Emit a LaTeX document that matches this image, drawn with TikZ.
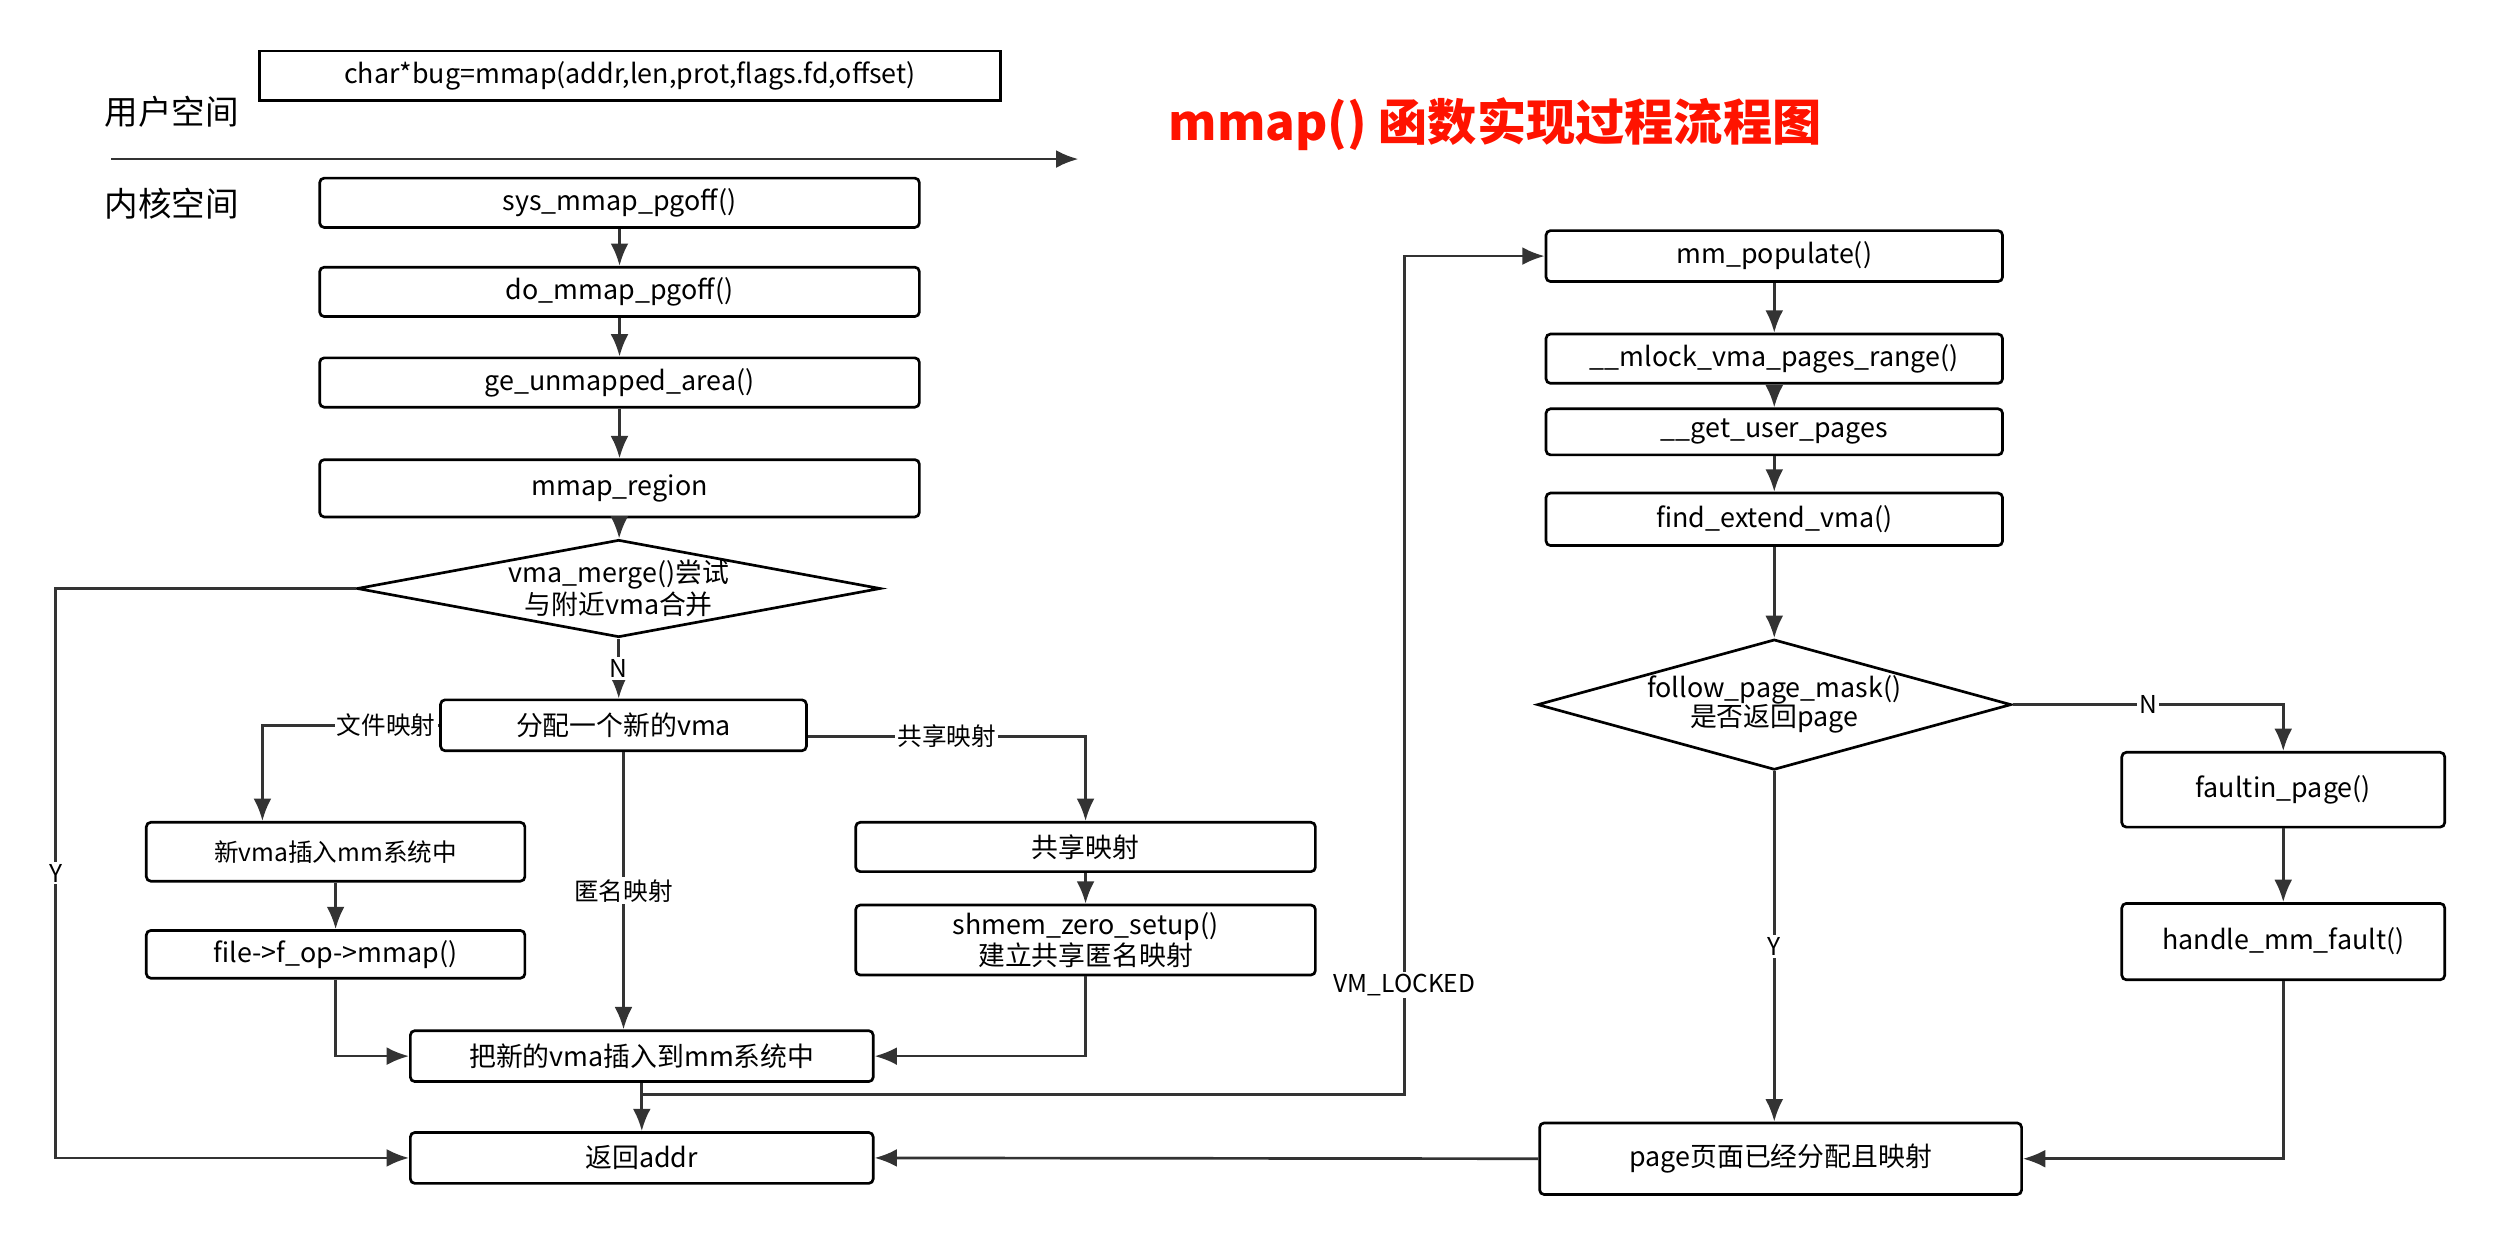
\documentclass[tikz,border=0pt]{standalone}
\usepackage{fontspec}
\setmainfont{Noto Sans CJK SC}
\usetikzlibrary{arrows.meta,shapes.geometric}
\tikzset{>={Latex[length=10pt,width=8pt]}}

\begin{document}
\begin{tikzpicture}[x=0.025cm,y=-0.025cm,
  box/.style={draw,rounded corners=2pt,line width=1.2pt,inner sep=0pt,align=center,font=\fontsize{12}{14}\selectfont},
  size/.style 2 args={minimum width={#1*0.025cm},minimum height={#2*0.025cm}},
  decide/.style={draw,diamond,line width=1.2pt,inner sep=0pt,align=center,font=\fontsize{12}{13}\selectfont},
  link/.style={->,line width=1.2pt,draw=black!80},
  tag/.style={fill=white,inner sep=1pt,font=\fontsize{11}{13}\selectfont}]
  \useasboundingbox (0,0) rectangle (1568,782);

  % User / kernel split
  \node[box,rounded corners=0pt,size={466}{31}] (call) at (396,47.5) {char*bug=mmap(addr,len,prot,flags.fd,offset)};
  \node[font=\fontsize{15}{17}\selectfont] (user) at (108,70) {用户空间};
  \node[font=\fontsize{15}{17}\selectfont] (kern) at (108,128) {内核空间};
  \coordinate (splitL) at (70,100);
  \coordinate (splitR) at (678,100);
  \draw[link] (splitL) -- (splitR);
  \node[text=red!85!orange,font=\fontsize{22}{26}\selectfont\bfseries] (title) at (940,78) {mmap() 函数实现过程流程图};

  % Left column
  \node[box,size={377}{31}] (sys) at (389.5,127.5) {sys\_mmap\_pgoff()};
  \node[box,size={377}{31}] (dopg) at (389.5,183.5) {do\_mmap\_pgoff()};
  \node[box,size={377}{31}] (gua) at (389.5,240.5) {ge\_unmapped\_area()};
  \node[box,size={377}{36}] (region) at (389.5,307) {mmap\_region};
  \node[decide,aspect=5.37,size={322}{60}] (merge) at (389,370) {vma\_merge()尝试\\与附近vma合并};
  \node[box,size={230}{32}] (newvma) at (392,456) {分配一个新的vma};
  \node[box,size={238}{37},font=\fontsize{11}{13}\selectfont] (insmm) at (211,535.5) {新vma插入mm系统中};
  \node[box,size={238}{30}] (fop) at (211,600) {file->f\_op->mmap()};
  \node[box,size={289}{31}] (share) at (682.5,532.5) {共享映射};
  \node[box,size={289}{44}] (shmem) at (682.5,591) {shmem\_zero\_setup()\\建立共享匿名映射};
  \node[box,size={291}{32}] (insert) at (403.5,664) {把新的vma插入到mm系统中};
  \node[box,size={291}{32}] (ret) at (403.5,728) {返回addr};

  % Right column
  \node[box,size={287}{32}] (popul) at (1115.5,161) {mm\_populate()};
  \node[box,size={287}{31}] (mlock) at (1115.5,225.5) {\_\_mlock\_vma\_pages\_range()};
  \node[box,size={287}{29}] (gup) at (1115.5,271.5) {\_\_get\_user\_pages};
  \node[box,size={287}{33}] (fev) at (1115.5,326.5) {find\_extend\_vma()};
  \node[decide,aspect=3.63,size={298}{82}] (fpm) at (1115.5,443) {follow\_page\_mask()\\是否返回page};
  \node[box,size={203}{47}] (faultin) at (1435.5,496.5) {faultin\_page()};
  \node[box,size={203}{48}] (hmf) at (1435.5,592) {handle\_mm\_fault()};
  \node[box,size={303}{45}] (page) at (1119.5,728.5) {page页面已经分配且映射};

  % Left flow
  \draw[link] (sys) -- (dopg);
  \draw[link] (dopg) -- (gua);
  \draw[link] (gua) -- (region);
  \draw[link] (region) -- (merge);
  \draw[link] (merge.south) -- node[tag] {N} (merge.south |- newvma.north);
  \draw[link] (newvma.west) -- node[tag,pos=0.3] {文件映射} (165,456) -- (insmm.north -| 165,0);
  \draw[link] (insmm.south) -- (fop.north);
  \draw[link] (newvma.south) -- node[tag] {匿名映射} (newvma.south |- insert.north);
  \draw[link] (newvma.east |- 0,463) -- node[tag] {共享映射} (682.5,463) -- (share.north);
  \draw[link] (share.south) -- (shmem.north);
  \draw[link] (fop.south) |- (insert.west);
  \draw[link] (shmem.south) |- (insert.east);
  \draw[link] (insert.south) -- (ret.north);
  \draw[link] (403.5,688) -- (883,688) -- node[tag,pos=0.13] {VM\_LOCKED} (883,161) -- (popul.west);
  \draw[link] (merge.west) -- (35,370) -- node[tag] {Y} (35,728) -- (ret.west);

  % Right flow
  \draw[link] (popul) -- (mlock);
  \draw[link] (mlock) -- (gup);
  \draw[link] (gup) -- (fev);
  \draw[link] (fev) -- (fpm);
  \draw[link] (fpm.east) -- node[tag] {N} (1435.5,443) -- (faultin.north);
  \draw[link] (faultin) -- (hmf);
  \draw[link] (fpm.south) -- node[tag] {Y} (page.north -| fpm.south);
  \draw[link] (hmf.south) |- (page.east);
  \draw[link] (page.west) -- (ret.east);
\end{tikzpicture}
\end{document}
